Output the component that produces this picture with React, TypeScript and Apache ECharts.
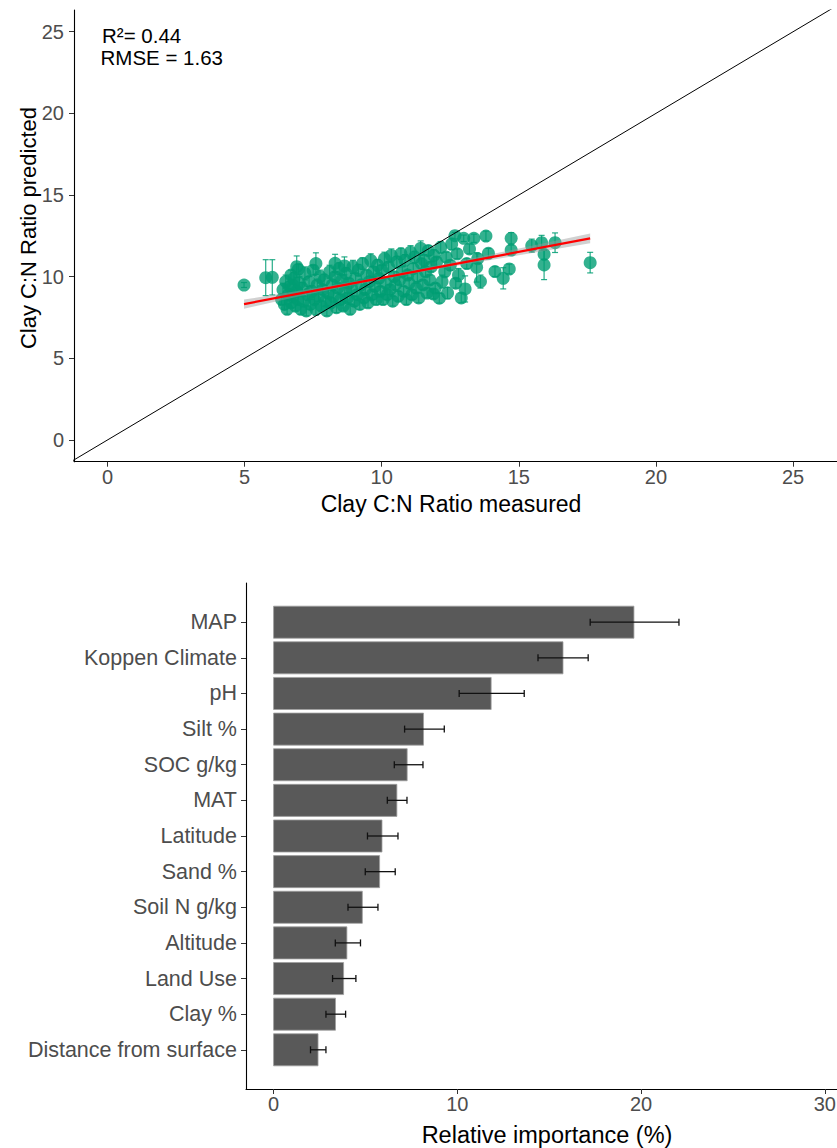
import React, { useEffect, useRef } from "react";
import * as echarts from "echarts";

// ---------- Top panel: predicted vs measured ----------
const measured = [
  4.98, 5.77, 6.01, 6.69, 6.78, 6.9, 6.96, 7.6, 8.3, 8.64,
  6.35, 6.4, 6.45, 6.5, 6.55, 6.6, 6.65, 6.7, 6.75, 6.8, 6.85, 6.9, 6.95, 7.0,
  7.05, 7.1, 7.15, 7.2, 7.25, 7.3, 7.35, 7.4, 7.45, 7.5, 7.55, 7.6, 7.65, 7.7, 7.75, 7.8, 7.85, 7.9, 7.95,
  8.0, 8.05, 8.1, 8.15, 8.2, 8.25, 8.3, 8.35, 8.4, 8.45, 8.5, 8.55, 8.6, 8.65, 8.7, 8.75, 8.8, 8.85, 8.9, 8.95,
  9.0, 9.05, 9.1, 9.15, 9.2, 9.25, 9.3, 9.35, 9.4, 9.45, 9.5, 9.55, 9.6, 9.65, 9.7, 9.75, 9.8, 9.85, 9.9, 9.95,
  10.0, 10.05, 10.1, 10.15, 10.2, 10.25, 10.3, 10.35, 10.4, 10.45, 10.5, 10.55, 10.6, 10.65, 10.7, 10.75, 10.8, 10.85, 10.9, 10.95,
  11.0, 11.05, 11.1, 11.15, 11.2, 11.25, 11.3, 11.35, 11.42, 11.45, 11.5, 11.55, 11.6, 11.65, 11.7, 11.75, 11.8, 11.88, 11.9, 11.95,
  12.0, 12.1, 12.15, 12.2, 12.3, 12.35, 12.4, 12.5, 12.55, 12.67, 12.7, 12.75, 12.8, 12.9, 12.99, 13.04, 13.1, 13.2, 13.36, 13.46, 13.5, 13.6, 13.8, 13.89,
  14.13, 14.43, 14.65, 14.72, 14.72, 15.47, 15.83, 15.92, 15.92, 16.32, 17.6,
];
const predicted = [
  9.49, 9.94, 9.96, 10.1, 9.45, 10.61, 10.45, 10.8, 10.82, 10.66,
  8.6, 9.2, 8.3, 9.7, 8.0, 8.9, 9.4, 8.4, 8.8, 9.9, 8.2, 9.1, 8.6, 9.6,
  8.0, 9.3, 8.5, 10.2, 7.9, 8.9, 9.7, 8.3, 9.1, 10.4, 8.6, 8.0, 9.5, 8.8, 10.0, 8.2, 9.2, 9.8, 8.5,
  7.9, 9.0, 10.3, 8.4, 9.5, 8.8, 10.0, 8.1, 9.3, 10.5, 8.6, 9.8, 8.2, 9.1, 10.2, 8.7, 9.6, 8.0, 9.3, 10.6,
  8.5, 9.9, 8.9, 10.4, 8.3, 9.5, 10.8, 8.7, 9.2, 10.1, 8.4, 9.7, 11.0, 8.9, 10.3, 9.4, 8.6, 10.7, 9.9, 9.1,
  10.4, 8.6, 11.1, 9.6, 8.9, 10.6, 9.2, 11.3, 8.5, 10.0, 9.5, 10.9, 8.8, 9.8, 11.4, 10.3, 9.1, 11.0, 8.6, 10.1,
  9.6, 11.5, 8.9, 10.5, 11.2, 9.3, 10.0, 8.7, 11.74, 10.8, 9.5, 11.0, 10.3, 9.0, 11.6, 9.8, 10.6, 8.94, 11.3, 9.3,
  10.9, 8.68, 11.8, 9.7, 10.3, 11.2, 9.0, 10.7, 12.0, 12.51, 9.6, 11.4, 10.1, 8.7, 12.35, 9.25, 10.8, 11.7, 12.35, 10.57, 11.1, 9.7, 12.49, 11.43,
  10.31, 9.9, 10.47, 12.35, 11.63, 11.9, 12.08, 11.37, 10.72, 12.08, 10.86,
];
const predErr = [
  0.15, 1.1, 1.08, 0.3, 0.4, 0.66, 0.3, 0.66, 0.55, 0.55,
  0.3, 0.4, 0.3, 0.4, 0.3, 0.35, 0.3, 0.3, 0.4, 0.35, 0.3, 0.3, 0.3, 0.4,
  0.3, 0.35, 0.3, 0.4, 0.3, 0.35, 0.3, 0.3, 0.35, 0.3, 0.3, 0.35, 0.3, 0.3, 0.4, 0.3, 0.3, 0.35, 0.3,
  0.3, 0.3, 0.4, 0.3, 0.3, 0.35, 0.3, 0.3, 0.3, 0.35, 0.3, 0.3, 0.3, 0.3, 0.35, 0.3, 0.3, 0.3, 0.3, 0.4,
  0.3, 0.3, 0.3, 0.35, 0.3, 0.3, 0.35, 0.3, 0.3, 0.3, 0.3, 0.3, 0.4, 0.3, 0.3, 0.3, 0.3, 0.35, 0.3, 0.3,
  0.3, 0.3, 0.4, 0.3, 0.3, 0.3, 0.3, 0.4, 0.3, 0.3, 0.3, 0.35, 0.3, 0.3, 0.35, 0.3, 0.3, 0.35, 0.3, 0.3,
  0.3, 0.4, 0.3, 0.3, 0.35, 0.3, 0.3, 0.3, 0.45, 0.3, 0.3, 0.35, 0.3, 0.3, 0.3, 0.3, 0.3, 0.3, 0.35, 0.3,
  0.3, 0.3, 0.35, 0.4, 0.3, 0.3, 0.35, 0.3, 0.35, 0.2, 0.3, 0.3, 0.4, 0.3, 0.2, 0.8, 0.3, 0.3, 0.25, 0.9, 0.3, 0.4, 0.3, 0.3,
  0.3, 0.65, 0.3, 0.35, 0.3, 0.4, 0.45, 0.3, 0.9, 0.6, 0.63,
];

const fitX = [4.98, 17.6];
const fitY = [8.32, 12.35];
const bandX = [4.98, 7, 9, 10, 11, 13, 15, 17.6];
const bandHalf = [0.28, 0.17, 0.1, 0.09, 0.1, 0.14, 0.21, 0.3];
const identityLine = [[-2, -2], [28, 28]];
const scatterTicks = [0, 5, 10, 15, 20, 25];

// ---------- Bottom panel: relative importance ----------
const predictors = [
  "MAP", "Koppen Climate", "pH", "Silt %", "SOC g/kg", "MAT", "Latitude",
  "Sand %", "Soil N g/kg", "Altitude", "Land Use", "Clay %", "Distance from surface",
];
const importance = [19.61, 15.75, 11.84, 8.16, 7.27, 6.71, 5.9, 5.77, 4.83, 3.99, 3.81, 3.37, 2.42];
const importanceLow = [17.23, 14.39, 10.1, 7.13, 6.57, 6.19, 5.11, 4.99, 4.05, 3.36, 3.21, 2.85, 2.01];
const importanceHigh = [22.06, 17.12, 13.64, 9.29, 8.13, 7.26, 6.77, 6.62, 5.68, 4.73, 4.48, 3.92, 2.85];
const importanceTicks = [0, 10, 20, 30];
const predictorIdx = predictors.map((_, i) => i);

const FONT = '"Liberation Sans", Arial, Helvetica, sans-serif';
const GREEN = "#009E73";
const TICK_GREY = "#4d4d4d";

export default function App() {
  const ref = useRef<HTMLDivElement>(null);

  useEffect(() => {
    if (!ref.current) return;
    const chart = echarts.init(ref.current, undefined, { renderer: "svg" });
    const slope = (fitY[1] - fitY[0]) / (fitX[1] - fitX[0]);
    const fitAt = (x: number) => fitY[0] + (x - fitX[0]) * slope;

    const axisCommon = {
      splitLine: { show: false },
      axisLine: { show: true, onZero: false, lineStyle: { color: "#000", width: 1.1 } },
    };

    const option: any = {
      animation: false,
      backgroundColor: "#fff",
      grid: [
        { left: 74, top: 10, width: 763, height: 451.7, containLabel: false, outerBoundsMode: "none" },
        { left: 246, top: 583, width: 591, height: 506, containLabel: false, outerBoundsMode: "none" },
      ],
      xAxis: [
        {
          ...axisCommon,
          gridIndex: 0,
          type: "value",
          min: -1.22,
          max: 26.6,
          axisTick: { show: true, length: 5, customValues: scatterTicks, lineStyle: { color: "#333" } },
          axisLabel: { customValues: scatterTicks, color: TICK_GREY, fontSize: 20, fontFamily: FONT, margin: 5 },
        },
        {
          ...axisCommon,
          gridIndex: 1,
          type: "value",
          min: -1.5,
          max: 30.66,
          axisTick: { show: true, length: 5, customValues: importanceTicks, lineStyle: { color: "#333" } },
          axisLabel: { customValues: importanceTicks, color: TICK_GREY, fontSize: 20, fontFamily: FONT, margin: 5 },
        },
      ],
      yAxis: [
        {
          ...axisCommon,
          gridIndex: 0,
          type: "value",
          min: -1.33,
          max: 26.33,
          axisTick: { show: true, length: 5, customValues: scatterTicks, lineStyle: { color: "#333" } },
          axisLabel: { customValues: scatterTicks, color: TICK_GREY, fontSize: 20, fontFamily: FONT, margin: 10 },
        },
        {
          ...axisCommon,
          gridIndex: 1,
          type: "value",
          inverse: true,
          min: -1.1,
          max: 13.1,
          axisTick: { show: true, length: 5, customValues: predictorIdx, lineStyle: { color: "#333" } },
          axisLabel: {
            customValues: predictorIdx,
            color: TICK_GREY,
            fontSize: 21.5,
            fontFamily: FONT,
            margin: 9,
            formatter: (v: number) => predictors[Math.round(v)] ?? "",
          },
        },
      ],
      series: [
        {
          type: "custom",
          name: "errorbars",
          xAxisIndex: 0,
          yAxisIndex: 0,
          data: measured.map((m, i) => [m, predicted[i] - predErr[i], predicted[i] + predErr[i]]),
          encode: { x: 0, y: [1, 2] },
          z: 2,
          renderItem: (_p: any, api: any) => {
            const x = api.value(0);
            const a = api.coord([x, api.value(1)]);
            const b = api.coord([x, api.value(2)]);
            const w = 3;
            const st = { stroke: GREEN, lineWidth: 1.2, opacity: 0.85 };
            return {
              type: "group",
              children: [
                { type: "line", shape: { x1: a[0], y1: a[1], x2: b[0], y2: b[1] }, style: st },
                { type: "line", shape: { x1: a[0] - w, y1: a[1], x2: a[0] + w, y2: a[1] }, style: st },
                { type: "line", shape: { x1: b[0] - w, y1: b[1], x2: b[0] + w, y2: b[1] }, style: st },
              ],
            };
          },
        },
        {
          type: "scatter",
          name: "points",
          xAxisIndex: 0,
          yAxisIndex: 0,
          data: measured.map((m, i) => [m, predicted[i]]),
          symbol: "circle",
          symbolSize: 13,
          z: 3,
          itemStyle: { color: GREEN, opacity: 0.8 },
        },
        {
          type: "custom",
          name: "band",
          xAxisIndex: 0,
          yAxisIndex: 0,
          data: [[fitX[0], fitY[0]]],
          encode: { x: 0, y: 1 },
          z: 4,
          renderItem: (_p: any, api: any) => {
            const upper = bandX.map((x, i) => api.coord([x, fitAt(x) + bandHalf[i]]));
            const lower = bandX.map((x, i) => api.coord([x, fitAt(x) - bandHalf[i]])).reverse();
            return {
              type: "polygon",
              shape: { points: upper.concat(lower) },
              style: { fill: "rgba(153,153,153,0.45)", stroke: "none" },
            };
          },
        },
        {
          type: "line",
          name: "fit",
          xAxisIndex: 0,
          yAxisIndex: 0,
          data: fitX.map((x, i) => [x, fitY[i]]),
          symbol: "none",
          z: 5,
          lineStyle: { color: "#ff0000", width: 2.2 },
        },
        {
          type: "line",
          name: "1:1",
          xAxisIndex: 0,
          yAxisIndex: 0,
          data: identityLine,
          symbol: "none",
          clip: true,
          z: 6,
          lineStyle: { color: "#000", width: 1 },
        },
        {
          type: "custom",
          name: "bars",
          xAxisIndex: 1,
          yAxisIndex: 1,
          data: predictors.map((_, i) => [i, importance[i]]),
          encode: { x: 1, y: 0 },
          z: 2,
          renderItem: (_p: any, api: any) => {
            const i = api.value(0);
            const s = api.coord([0, i]);
            const e = api.coord([api.value(1), i]);
            const h = Math.abs(api.size([0, 1])[1]) * 0.9;
            return {
              type: "rect",
              shape: { x: s[0], y: s[1] - h / 2, width: e[0] - s[0], height: h },
              style: { fill: "#595959", stroke: "#9e9e9e", lineWidth: 0.8 },
            };
          },
        },
        {
          type: "custom",
          name: "importanceErr",
          xAxisIndex: 1,
          yAxisIndex: 1,
          data: predictors.map((_, i) => [i, importanceLow[i], importanceHigh[i]]),
          encode: { x: [1, 2], y: 0 },
          z: 3,
          renderItem: (_p: any, api: any) => {
            const i = api.value(0);
            const a = api.coord([api.value(1), i]);
            const b = api.coord([api.value(2), i]);
            const hh = 3.5;
            const st = { stroke: "#111", lineWidth: 1.3 };
            return {
              type: "group",
              children: [
                { type: "line", shape: { x1: a[0], y1: a[1], x2: b[0], y2: b[1] }, style: st },
                { type: "line", shape: { x1: a[0], y1: a[1] - hh, x2: a[0], y2: a[1] + hh }, style: st },
                { type: "line", shape: { x1: b[0], y1: b[1] - hh, x2: b[0], y2: b[1] + hh }, style: st },
              ],
            };
          },
        },
      ],
      graphic: [
        {
          type: "text",
          x: 102,
          y: 35,
          style: { text: "R²= 0.44", fontSize: 20.5, fontFamily: FONT, fill: "#000", align: "left", verticalAlign: "middle" },
        },
        {
          type: "text",
          x: 100.5,
          y: 57,
          style: { text: "RMSE = 1.63", fontSize: 20.5, fontFamily: FONT, fill: "#000", align: "left", verticalAlign: "middle" },
        },
        {
          type: "text",
          x: 28,
          y: 228,
          rotation: Math.PI / 2,
          style: { text: "Clay C:N Ratio predicted", fontSize: 22, fontFamily: FONT, fill: "#000", align: "center", verticalAlign: "middle" },
        },
        {
          type: "text",
          x: 451,
          y: 504,
          style: { text: "Clay C:N Ratio measured", fontSize: 23, fontFamily: FONT, fill: "#000", align: "center", verticalAlign: "middle" },
        },
        {
          type: "text",
          x: 547,
          y: 1135,
          style: { text: "Relative importance (%)", fontSize: 23.5, fontFamily: FONT, fill: "#000", align: "center", verticalAlign: "middle" },
        },
      ],
    };

    chart.setOption(option);
    return () => chart.dispose();
  }, []);

  return (
    <div
      ref={ref}
      style={{ position: "absolute", left: 0, top: 0, width: 837, height: 1148, background: "#fff" }}
    />
  );
}
